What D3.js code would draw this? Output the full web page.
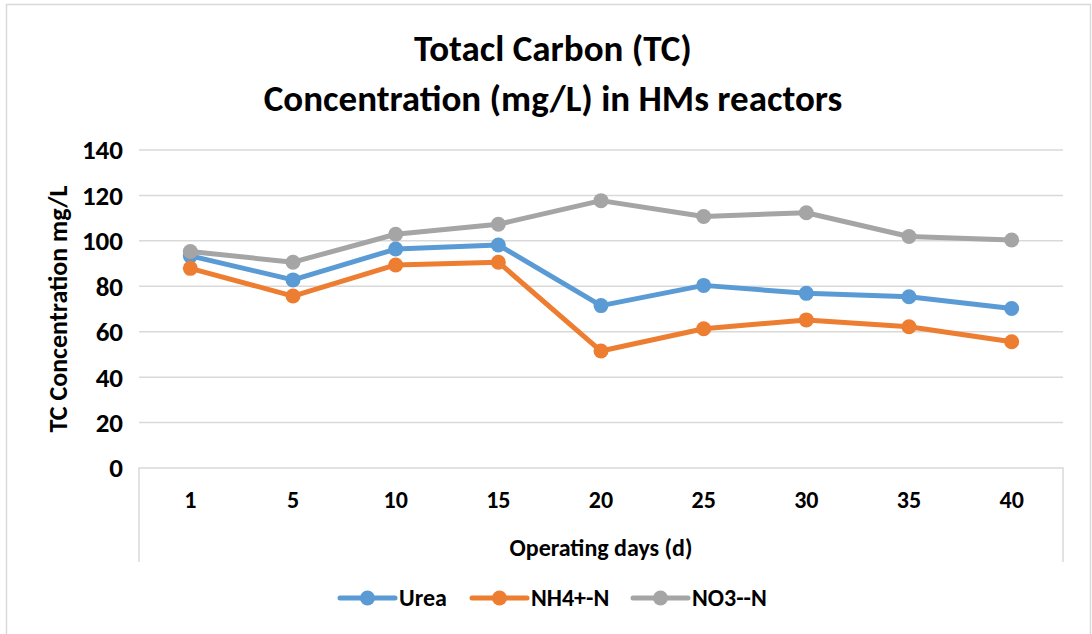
<!DOCTYPE html>
<html>
<head>
<meta charset="utf-8">
<script src="https://cdn.jsdelivr.net/npm/d3@7"></script>
<style>
  body { margin: 0; background: #fff; }
  text { font-family: Carlito, Calibri, Lato, sans-serif; font-weight: bold; fill: #000; }
</style>
</head>
<body>
<div id="chart"></div>
<script>
let width = 1092,
    height = 634;

let days = ["1", "5", "10", "15", "20", "25", "30", "35", "40"];
let urea = [93.4, 82.8, 96.4, 98.2, 71.5, 80.4, 76.9, 75.4, 70.2];
let nh4 = [87.9, 75.7, 89.4, 90.6, 51.5, 61.3, 65.2, 62.2, 55.6];
let no3 = [95.3, 90.6, 102.9, 107.3, 117.7, 110.7, 112.4, 101.9, 100.4];
let yTicks = [0, 20, 40, 60, 80, 100, 120, 140];

let series = [
  {name: "Urea", values: urea, color: "#5B9BD5"},
  {name: "NH4+-N", values: nh4, color: "#ED7D31"},
  {name: "NO3--N", values: no3, color: "#A5A5A5"}
];

let margin = {left: 139, right: 1063, top: 150, bottom: 468};

let svg = d3.select("#chart").append("svg")
    .attr("width", width)
    .attr("height", height)
    .style("background", "#fff");

// outer chart border
svg.append("rect")
  .attr("x", 6.5).attr("y", 4.5)
  .attr("width", 1084).attr("height", 640)
  .attr("fill", "none")
  .attr("stroke", "#d9d9d9")
  .attr("stroke-width", 1.5);

let x = d3.scaleBand()
    .domain(days)
    .range([margin.left, margin.right])
    .padding(0);

let y = d3.scaleLinear()
    .domain([0, 140])
    .range([margin.bottom, margin.top]);

// horizontal gridlines
svg.append("g").selectAll("line")
  .data(yTicks.filter(d => d > 0))
  .enter().append("line")
    .attr("x1", margin.left).attr("x2", margin.right)
    .attr("y1", d => y(d)).attr("y2", d => y(d))
    .attr("stroke", "#d9d9d9")
    .attr("stroke-width", 1.5);

// x axis box (axis line + side lines)
svg.append("path")
  .attr("d", `M${margin.left},562V${y(0)}H${margin.right}V562`)
  .attr("fill", "none")
  .attr("stroke", "#d9d9d9")
  .attr("stroke-width", 1.5);

// y tick labels
svg.append("g").selectAll("text")
  .data(yTicks)
  .enter().append("text")
    .attr("x", 123)
    .attr("y", d => y(d))
    .attr("dy", "0.35em")
    .attr("text-anchor", "end")
    .style("font-size", "27px")
    .text(d => d);

// x tick labels
svg.append("g").selectAll("text")
  .data(days)
  .enter().append("text")
    .attr("x", d => x(d) + x.bandwidth() / 2)
    .attr("y", 500)
    .attr("dy", "0.35em")
    .attr("text-anchor", "middle")
    .style("font-size", "24px")
    .text(d => d);

// axis titles
svg.append("text")
  .attr("x", (margin.left + margin.right) / 2)
  .attr("y", 548)
  .attr("dy", "0.35em")
  .attr("text-anchor", "middle")
  .style("font-size", "24px")
  .text("Operating days (d)");

svg.append("text")
  .attr("transform", `translate(58,${(margin.top + margin.bottom) / 2}) rotate(-90)`)
  .attr("dy", "0.35em")
  .attr("text-anchor", "middle")
  .style("font-size", "26px")
  .text("TC Concentration mg/L");

// title
let title = svg.append("text")
  .attr("text-anchor", "middle")
  .style("font-size", "37px");
title.append("tspan").attr("x", 553).attr("y", 61).text("Totacl Carbon (TC)");
title.append("tspan").attr("x", 553).attr("y", 111).text("Concentration (mg/L) in HMs reactors");

// lines + markers
let line = d3.line()
    .x((d, i) => x(days[i]) + x.bandwidth() / 2)
    .y(d => y(d));

series.forEach(s => {
  svg.append("path")
    .datum(s.values)
    .attr("d", line)
    .attr("fill", "none")
    .attr("stroke", s.color)
    .attr("stroke-width", 5)
    .attr("stroke-linejoin", "round")
    .attr("stroke-linecap", "round");

  svg.append("g").selectAll("circle")
    .data(s.values)
    .enter().append("circle")
      .attr("cx", (d, i) => x(days[i]) + x.bandwidth() / 2)
      .attr("cy", d => y(d))
      .attr("r", 7.5)
      .attr("fill", s.color);
});

// legend
let legendX = [340, 472, 633];
let legend = svg.append("g").selectAll("g")
  .data(series)
  .enter().append("g")
    .attr("transform", (d, i) => `translate(${legendX[i]},598)`);

legend.append("line")
  .attr("x1", 0).attr("x2", 55)
  .attr("stroke", d => d.color)
  .attr("stroke-width", 5)
  .attr("stroke-linecap", "round");

legend.append("circle")
  .attr("cx", 27.5)
  .attr("r", 7.5)
  .attr("fill", d => d.color);

legend.append("text")
  .attr("x", 59)
  .attr("dy", "0.35em")
  .style("font-size", "24px")
  .text(d => d.name);
</script>
</body>
</html>
